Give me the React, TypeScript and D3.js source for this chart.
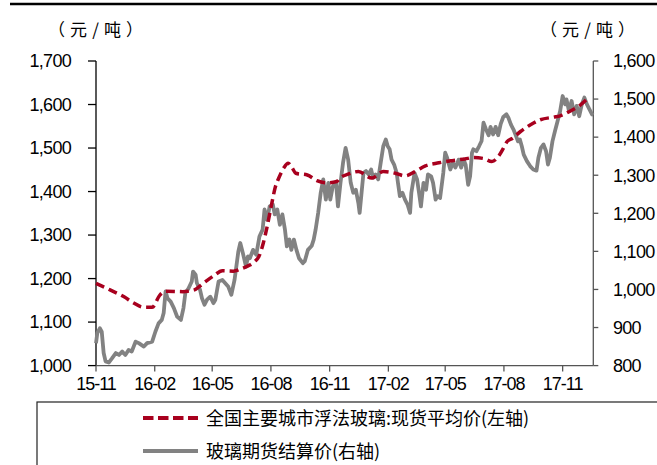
import React from "react";
import * as d3 from "d3";

// ---- data ----
const spotDates = [
  "2015-11-01","2015-11-23","2015-12-15","2015-12-30","2016-01-14","2016-01-28","2016-02-09","2016-02-19",
  "2016-03-16","2016-04-03","2016-04-12","2016-04-18","2016-05-03","2016-05-17","2016-06-03","2016-06-18",
  "2016-06-29","2016-07-07","2016-07-13","2016-07-20","2016-07-26","2016-08-02","2016-08-08","2016-08-13",
  "2016-08-21","2016-08-28","2016-09-03","2016-09-09","2016-09-27","2016-10-12","2016-10-28","2016-11-12",
  "2016-11-17","2016-11-30","2016-12-16","2017-01-06","2017-01-24","2017-02-12","2017-02-27","2017-03-15",
  "2017-03-31","2017-04-21","2017-05-12","2017-06-01","2017-06-14","2017-06-30","2017-07-13","2017-07-24",
  "2017-07-31","2017-08-06","2017-08-14","2017-08-27","2017-09-11","2017-09-27","2017-10-18","2017-10-28",
  "2017-11-13","2017-11-29","2017-12-11",
];
const spotValues = [
  1189, 1174, 1158, 1144, 1134, 1134, 1162, 1171,
  1170, 1174, 1183, 1190, 1206, 1218, 1217, 1224,
  1231, 1240, 1250, 1281, 1319, 1370, 1411, 1430,
  1454, 1465, 1455, 1442, 1438, 1425, 1420, 1423,
  1431, 1440, 1446, 1431, 1446, 1442, 1436, 1446,
  1459, 1466, 1471, 1475, 1478, 1476, 1469, 1482,
  1499, 1515, 1522, 1538, 1553, 1565, 1571, 1574,
  1585, 1599, 1615,
];

const futuresDates = [
  "2015-11-01","2015-11-03","2015-11-07","2015-11-10","2015-11-13","2015-11-16","2015-11-21","2015-11-26",
  "2015-12-02","2015-12-07","2015-12-12","2015-12-17","2015-12-22","2015-12-27","2016-01-02","2016-01-07",
  "2016-01-15","2016-01-20","2016-01-28","2016-02-02","2016-02-07","2016-02-12","2016-02-15","2016-02-18",
  "2016-02-21","2016-02-26","2016-03-02","2016-03-07","2016-03-13","2016-03-17","2016-03-20","2016-03-25",
  "2016-03-30","2016-04-01","2016-04-05","2016-04-07","2016-04-12","2016-04-15","2016-04-19","2016-04-23",
  "2016-04-28","2016-05-03","2016-05-06","2016-05-11","2016-05-17","2016-05-26","2016-05-31","2016-06-05",
  "2016-06-11","2016-06-14","2016-06-18","2016-06-23","2016-06-26","2016-06-29","2016-07-04","2016-07-09",
  "2016-07-14","2016-07-19","2016-07-22","2016-07-26","2016-07-30","2016-08-04","2016-08-07","2016-08-11",
  "2016-08-15","2016-08-19","2016-08-23","2016-08-26","2016-08-30","2016-09-02","2016-09-06","2016-09-10",
  "2016-09-14","2016-09-20","2016-09-23","2016-09-28","2016-10-04","2016-10-07","2016-10-10","2016-10-14",
  "2016-10-18","2016-10-22","2016-10-26","2016-10-30","2016-11-02","2016-11-06","2016-11-11","2016-11-14",
  "2016-11-18","2016-11-22","2016-11-26","2016-11-30","2016-12-04","2016-12-08","2016-12-12","2016-12-16",
  "2016-12-18","2016-12-21","2016-12-24","2016-12-28","2017-01-01","2017-01-05","2017-01-08","2017-01-12",
  "2017-01-16","2017-01-20","2017-01-24","2017-01-28","2017-01-31","2017-02-03","2017-02-06","2017-02-10",
  "2017-02-14","2017-02-16","2017-02-19","2017-02-23","2017-02-27","2017-03-03","2017-03-07","2017-03-09",
  "2017-03-14","2017-03-18","2017-03-21","2017-03-24","2017-03-28","2017-04-01","2017-04-04","2017-04-09",
  "2017-04-12","2017-04-16","2017-04-19","2017-04-23","2017-04-28","2017-05-01","2017-05-04","2017-05-09",
  "2017-05-13","2017-05-17","2017-05-22","2017-05-26","2017-05-30","2017-06-02","2017-06-06","2017-06-09",
  "2017-06-12","2017-06-14","2017-06-19","2017-06-23","2017-06-27","2017-06-30","2017-07-04","2017-07-08",
  "2017-07-11","2017-07-15","2017-07-19","2017-07-23","2017-07-27","2017-07-31","2017-08-05","2017-08-08",
  "2017-08-12","2017-08-16","2017-08-20","2017-08-23","2017-08-26","2017-08-29","2017-09-01","2017-09-06",
  "2017-09-11","2017-09-16","2017-09-21","2017-09-24","2017-09-28","2017-10-02","2017-10-06","2017-10-09",
  "2017-10-12","2017-10-16","2017-10-20","2017-10-24","2017-10-28","2017-11-01","2017-11-05","2017-11-07",
  "2017-11-11","2017-11-15","2017-11-19","2017-11-23","2017-11-27","2017-12-01","2017-12-05","2017-12-09",
  "2017-12-13","2017-12-17","2017-12-19",
];
const futuresValues = [
  859, 885, 898, 889, 833, 811, 808, 819,
  833, 828, 837, 828, 841, 837, 863, 859,
  850, 859, 863, 889, 911, 920, 938, 995,
  977, 968, 951, 929, 920, 951, 991, 1003,
  1021, 1047, 1039, 1017, 999, 977, 960, 973,
  981, 964, 973, 1021, 1025, 1008, 986, 1025,
  1100, 1122, 1096, 1060, 1087, 1082, 1104, 1091,
  1139, 1157, 1210, 1183, 1218, 1223, 1197, 1210,
  1170, 1197, 1157, 1113, 1131, 1104, 1131, 1104,
  1082, 1069, 1074, 1104, 1115, 1131, 1157, 1201,
  1254, 1289, 1236, 1280, 1236, 1271, 1280, 1218,
  1280, 1333, 1372, 1341, 1280, 1254, 1262, 1227,
  1201, 1254, 1306, 1311, 1302, 1315, 1293, 1302,
  1289, 1333, 1376, 1394, 1376, 1368, 1341, 1328,
  1306, 1280, 1245, 1254, 1236, 1223, 1201, 1254,
  1306, 1289, 1254, 1218, 1280, 1262, 1302, 1297,
  1280, 1236, 1245, 1240, 1306, 1359, 1346, 1315,
  1333, 1320, 1341, 1320, 1341, 1328, 1275, 1297,
  1359, 1368, 1363, 1376, 1390, 1438, 1420, 1405,
  1427, 1407, 1427, 1405, 1435, 1453, 1460, 1451,
  1433, 1420, 1403, 1389, 1394, 1376, 1354, 1337,
  1324, 1315, 1312, 1346, 1372, 1381, 1363, 1328,
  1346, 1389, 1416, 1442, 1468, 1508, 1486, 1499,
  1468, 1495, 1460, 1482, 1455, 1486, 1504, 1486,
  1473, 1460, 1458,
];

const xTickLabels = ["15-11", "16-02", "16-05", "16-08", "16-11", "17-02", "17-05", "17-08", "17-11"];
const leftTicks = [1000, 1100, 1200, 1300, 1400, 1500, 1600, 1700];
const rightTicks = [800, 900, 1000, 1100, 1200, 1300, 1400, 1500, 1600];
const unitLabel = "（元/吨）";
const seriesNames = ["全国主要城市浮法玻璃:现货平均价(左轴)", "玻璃期货结算价(右轴)"];
const xDomain = ["2015-11-01", "2017-12-19"];

// ---- chart ----
const W = 657;
const H = 465;
const plot = { left: 96, right: 593.3, top: 61, bottom: 365.6 };
const RED = "#A8001E";
const GRAY = "#828282";
const FONT = "'Liberation Sans', Arial, sans-serif";
const CJK = "'Noto Sans CJK SC', 'Noto Sans', sans-serif";

export default function App() {
  const parse = d3.timeParse("%Y-%m-%d")!;
  const parseTick = d3.timeParse("%y-%m")!;
  const x = d3
    .scaleTime()
    .domain(xDomain.map((d) => parse(d) as Date))
    .range([plot.left, plot.right]);
  const yL = d3.scaleLinear().domain([1000, 1700]).range([plot.bottom, plot.top]);
  const yR = d3.scaleLinear().domain([800, 1600]).range([plot.bottom, plot.top]);

  const spot = spotDates.map((d, i) => ({ date: parse(d) as Date, v: spotValues[i] }));
  const fut = futuresDates.map((d, i) => ({ date: parse(d) as Date, v: futuresValues[i] }));

  const spotLine = d3
    .line<{ date: Date; v: number }>()
    .x((d) => x(d.date))
    .y((d) => yL(d.v))
    .curve(d3.curveMonotoneX);
  const futLine = d3
    .line<{ date: Date; v: number }>()
    .x((d) => x(d.date))
    .y((d) => yR(d.v));

  const fmt = d3.format(",");

  return (
    <svg
      width={W}
      height={H}
      style={{ position: "absolute", left: 0, top: 0, background: "#fff" }}
    >
      <rect x={0} y={0} width={W} height={H} fill="#fff" />
      {/* top rule */}
      <line x1={10} x2={W} y1={4} y2={4} stroke="#000" strokeWidth={2.5} />

      {/* unit labels */}
      <text x={48} y={36} fontFamily={CJK} fontSize={17} textLength={95} lengthAdjust="spacing" fill="#000">
        {unitLabel}
      </text>
      <text x={540} y={36} fontFamily={CJK} fontSize={17} textLength={95} lengthAdjust="spacing" fill="#000">
        {unitLabel}
      </text>

      {/* left axis */}
      <line x1={plot.left} x2={plot.left} y1={plot.top} y2={plot.bottom} stroke="#000" strokeWidth={1.3} />
      {leftTicks.map((t) => (
        <g key={"l" + t}>
          <line x1={plot.left - 8} x2={plot.left} y1={yL(t)} y2={yL(t)} stroke="#000" strokeWidth={1.3} />
          <text
            x={71}
            y={yL(t)}
            dy="0.35em"
            textAnchor="end"
            fontFamily={FONT}
            fontSize={18}
            letterSpacing={-0.7}
            fill="#000"
          >
            {fmt(t)}
          </text>
        </g>
      ))}

      {/* right axis */}
      <line x1={plot.right} x2={plot.right} y1={plot.top} y2={plot.bottom} stroke="#555" strokeWidth={1.3} />
      {rightTicks.map((t) => (
        <g key={"r" + t}>
          <line x1={plot.right} x2={plot.right + 5} y1={yR(t)} y2={yR(t)} stroke="#555" strokeWidth={1.3} />
          <text
            x={613}
            y={yR(t)}
            dy="0.35em"
            textAnchor="start"
            fontFamily={FONT}
            fontSize={18}
            letterSpacing={-0.7}
            fill="#000"
          >
            {fmt(t)}
          </text>
        </g>
      ))}

      {/* x axis */}
      <line x1={plot.left} x2={plot.right} y1={plot.bottom} y2={plot.bottom} stroke="#555" strokeWidth={1.3} />
      {xTickLabels.map((lab) => {
        const xx = x(parseTick(lab) as Date);
        return (
          <g key={lab}>
            <line x1={xx} x2={xx} y1={plot.bottom} y2={plot.bottom + 6} stroke="#555" strokeWidth={1.3} />
            <text
              x={xx}
              y={390}
              textAnchor="middle"
              fontFamily={FONT}
              fontSize={18}
              letterSpacing={-1}
              fill="#000"
            >
              {lab}
            </text>
          </g>
        );
      })}

      {/* series */}
      <path d={futLine(fut) || ""} fill="none" stroke={GRAY} strokeWidth={3.8} strokeLinejoin="round" />
      <path
        d={spotLine(spot) || ""}
        fill="none"
        stroke={RED}
        strokeWidth={3.5}
        strokeDasharray="9,5"
      />

      {/* legend */}
      <rect x={37} y={402} width={W} height={100} fill="none" stroke="#222" strokeWidth={1.2} />
      <line x1={143} x2={198} y1={418} y2={418} stroke={RED} strokeWidth={4} strokeDasharray="10.5,4.5" />
      <text x={206} y={424.5} fontFamily={CJK} fontSize={18} fill="#000">
        {seriesNames[0]}
      </text>
      <line x1={143} x2={198} y1={451} y2={451} stroke={GRAY} strokeWidth={4} />
      <text x={206} y={457.5} fontFamily={CJK} fontSize={18} fill="#000">
        {seriesNames[1]}
      </text>
    </svg>
  );
}
